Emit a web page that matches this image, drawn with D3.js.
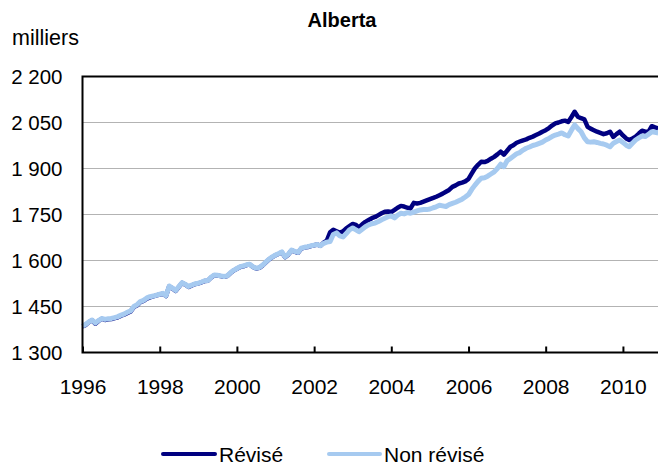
<!DOCTYPE html>
<html>
<head>
<meta charset="utf-8">
<script src="https://cdn.jsdelivr.net/npm/d3@7"></script>
<style>
  body { margin: 0; background: #fff; }
  svg { display: block; font-family: "Liberation Sans", Arial, sans-serif; }
</style>
</head>
<body>
<div id="myPlot"></div>
<script>
// Alberta, monthly, Jan 1996 to Dec 2010 (thousands)
var startYear = 1996;

var nonRevise = [
  1386, 1392, 1400, 1406, 1396, 1404, 1411, 1408, 1410, 1411, 1414, 1417, // 1996
  1422, 1426, 1431, 1436, 1450, 1456, 1466, 1470, 1478, 1482, 1484, 1487, // 1997
  1490, 1493, 1485, 1517, 1510, 1502, 1515, 1528, 1522, 1515, 1520, 1524, // 1998
  1526, 1530, 1534, 1535, 1545, 1553, 1552, 1550, 1548, 1550, 1560, 1568, // 1999
  1574, 1580, 1582, 1586, 1588, 1580, 1575, 1577, 1585, 1595, 1605, 1612, // 2000
  1618, 1623, 1628, 1612, 1620, 1634, 1630, 1626, 1640, 1643, 1645, 1648, // 2001
  1650, 1652, 1648, 1656, 1660, 1662, 1685, 1690, 1680, 1677, 1688, 1700, // 2002
  1706, 1700, 1694, 1702, 1710, 1716, 1720, 1722, 1727, 1733, 1738, 1743, // 2003
  1745, 1739, 1748, 1754, 1752, 1756, 1754, 1758, 1762, 1765, 1766, 1766, // 2004
  1768, 1772, 1775, 1780, 1778, 1776, 1782, 1786, 1790, 1795, 1800, 1807, // 2005
  1815, 1832, 1845, 1858, 1868, 1870, 1875, 1882, 1889, 1900, 1914, 1906, // 2006
  1925, 1933, 1940, 1948, 1952, 1960, 1966, 1970, 1975, 1978, 1982, 1986, // 2007
  1993, 1998, 2004, 2009, 2012, 2016, 2010, 2006, 2025, 2042, 2030, 2020, // 2008
  2000, 1987, 1986, 1987, 1985, 1982, 1980, 1976, 1971, 1982, 1988, 1993, // 2009
  1985, 1976, 1971, 1982, 1993, 2000, 2006, 2004, 2012, 2020, 2018, 2016  // 2010
];

var revise = [
  1385, 1390, 1399, 1405, 1394, 1403, 1410, 1406, 1408, 1409, 1412, 1415, // 1996
  1420, 1424, 1429, 1434, 1448, 1454, 1464, 1468, 1476, 1480, 1483, 1486, // 1997
  1489, 1492, 1484, 1516, 1509, 1501, 1514, 1527, 1521, 1514, 1519, 1523, // 1998
  1525, 1529, 1533, 1534, 1544, 1552, 1551, 1549, 1547, 1549, 1559, 1567, // 1999
  1573, 1579, 1581, 1585, 1587, 1579, 1574, 1576, 1584, 1594, 1604, 1611, // 2000
  1617, 1622, 1627, 1611, 1619, 1633, 1629, 1625, 1639, 1642, 1644, 1647, // 2001
  1650, 1652, 1648, 1658, 1665, 1692, 1700, 1695, 1690, 1695, 1705, 1712, // 2002
  1719, 1716, 1708, 1718, 1726, 1732, 1738, 1742, 1748, 1754, 1759, 1760, // 2003
  1758, 1765, 1772, 1778, 1776, 1772, 1770, 1788, 1786, 1788, 1792, 1796, // 2004
  1800, 1804, 1808, 1813, 1818, 1824, 1830, 1840, 1845, 1851, 1854, 1858, // 2005
  1866, 1884, 1900, 1912, 1922, 1921, 1925, 1932, 1938, 1946, 1955, 1945, // 2006
  1958, 1971, 1976, 1984, 1988, 1992, 1995, 2000, 2004, 2009, 2014, 2020, // 2007
  2025, 2032, 2040, 2047, 2050, 2054, 2056, 2052, 2068, 2085, 2069, 2064, // 2008
  2060, 2036, 2030, 2025, 2020, 2016, 2012, 2015, 2020, 2003, 2012, 2020, // 2009
  2008, 1998, 1993, 1998, 2004, 2014, 2023, 2020, 2020, 2038, 2034, 2031  // 2010
];

var xTickYears = [1996, 1998, 2000, 2002, 2004, 2006, 2008, 2010];
var yTicks = [1300, 1450, 1600, 1750, 1900, 2050, 2200];
var yTickLabels = ["1 300", "1 450", "1 600", "1 750", "1 900", "2 050", "2 200"];
var seriesNames = ["Révisé", "Non révisé"];

var svgWidth = 658;
var svgHeight = 468;

var margin = { top: 76.5, left: 82.5, bottom: 115.5 };
var plotRight = 661.5;
var plotBottom = svgHeight - margin.bottom;

var svg = d3.select("#myPlot")
    .append("svg")
    .attr("width", svgWidth)
    .attr("height", svgHeight);

var xScale = d3.scaleTime()
    .domain([new Date(startYear, 0, 1), new Date(2011, 0, 1)])
    .range([margin.left, plotRight]);

var yScale = d3.scaleLinear()
    .domain([1300, 2200])
    .range([plotBottom, margin.top]);

var monthDate = i => d3.timeMonth.offset(new Date(startYear, 0, 1), i);

// gridlines
svg.append("g")
    .selectAll("line")
    .data(yTicks.slice(1, -1))
    .enter().append("line")
    .attr("x1", margin.left)
    .attr("x2", plotRight)
    .attr("y1", d => yScale(d))
    .attr("y2", d => yScale(d))
    .attr("stroke", "#b3b3b3")
    .attr("stroke-width", 1);

// lines
var line = d3.line()
    .x((d, i) => xScale(monthDate(i)))
    .y(d => yScale(d));

svg.append("path")
    .datum(revise)
    .attr("fill", "none")
    .attr("stroke", "#000080")
    .attr("stroke-width", 4.5)
    .attr("stroke-linejoin", "round")
    .attr("d", line);

svg.append("path")
    .datum(nonRevise)
    .attr("fill", "none")
    .attr("stroke", "#a6caf0")
    .attr("stroke-width", 5)
    .attr("stroke-linejoin", "round")
    .attr("d", line);

// frame
svg.append("rect")
    .attr("x", margin.left)
    .attr("y", margin.top)
    .attr("width", plotRight - margin.left)
    .attr("height", plotBottom - margin.top)
    .attr("fill", "none")
    .attr("stroke", "#000")
    .attr("stroke-width", 2);

// x axis, ticks pointing up
var xAxis = d3.axisBottom(xScale)
    .tickValues(xTickYears.map(y => new Date(y, 0, 1)))
    .tickFormat(d3.timeFormat("%Y"))
    .tickSizeInner(-6)
    .tickSizeOuter(0)
    .tickPadding(27);

var gx = svg.append("g")
    .attr("transform", `translate(0, ${plotBottom})`)
    .call(xAxis);
gx.select(".domain").remove();
gx.selectAll(".tick line").attr("stroke", "#000").attr("stroke-width", 2);
gx.selectAll("text")
    .style("font-size", "21px")
    .style("font-family", "Liberation Sans, Arial, sans-serif")
    .attr("fill", "#000");

// y axis labels
var yAxis = d3.axisLeft(yScale)
    .tickValues(yTicks)
    .tickFormat((d, i) => yTickLabels[i])
    .tickSize(0)
    .tickPadding(20);

var gy = svg.append("g")
    .attr("transform", `translate(${margin.left}, 0)`)
    .call(yAxis);
gy.select(".domain").remove();
gy.selectAll("text")
    .style("font-size", "20.5px")
    .style("font-family", "Liberation Sans, Arial, sans-serif")
    .attr("fill", "#000");

// title and unit
svg.append("text")
    .attr("x", 342)
    .attr("y", 27)
    .attr("text-anchor", "middle")
    .style("font-size", "20px")
    .style("font-weight", "bold")
    .text("Alberta");

svg.append("text")
    .attr("x", 12)
    .attr("y", 45)
    .style("font-size", "21.5px")
    .text("milliers");

// legend
var legend = svg.append("g");
var legendItems = [
    { name: seriesNames[0], color: "#000080", x1: 163, x2: 215, tx: 219 },
    { name: seriesNames[1], color: "#a6caf0", x1: 329, x2: 380, tx: 384 }
];
legendItems.forEach(function (d) {
    legend.append("line")
        .attr("x1", d.x1).attr("x2", d.x2)
        .attr("y1", 454).attr("y2", 454)
        .attr("stroke", d.color)
        .attr("stroke-width", 4)
        .attr("stroke-linecap", "round");
    legend.append("text")
        .attr("x", d.tx)
        .attr("y", 462)
        .style("font-size", "21px")
        .text(d.name);
});
</script>
</body>
</html>
